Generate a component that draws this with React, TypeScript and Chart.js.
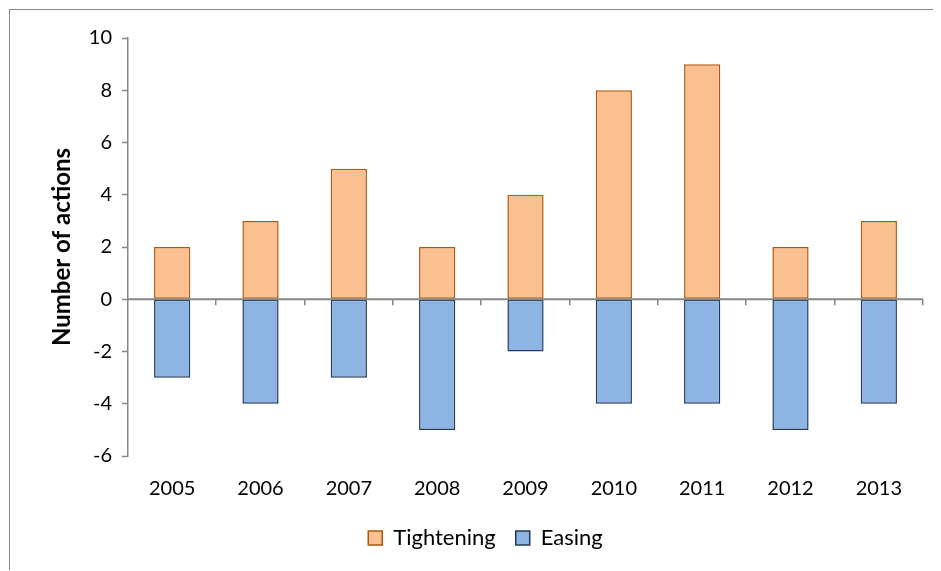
import React, { useEffect, useRef } from "react";
import { Chart, registerables } from "chart.js";

Chart.register(...registerables);

const CATEGORIES = ["2005", "2006", "2007", "2008", "2009", "2010", "2011", "2012", "2013"];
const TIGHTENING = [2, 3, 5, 2, 4, 8, 9, 2, 3];
const EASING = [-3, -4, -3, -5, -2, -4, -4, -5, -4];
const Y_MIN = -6;
const Y_MAX = 10;
const Y_STEP = 2;

const AXIS_COLOR = "#868686";
const FONT = "Lato, 'Open Sans', sans-serif";

const zeroLinePlugin = {
  id: "zeroLine",
  afterDatasetsDraw(chart: any) {
    const { ctx, scales } = chart;
    const x = scales.x;
    const y = scales.y;
    const y0 = y.getPixelForValue(0);
    ctx.save();
    ctx.strokeStyle = AXIS_COLOR;
    ctx.lineWidth = 2;
    ctx.beginPath();
    ctx.moveTo(x.left, y0);
    ctx.lineTo(x.right, y0);
    ctx.stroke();
    ctx.lineWidth = 1.5;
    for (let i = 0; i < CATEGORIES.length; i++) {
      const px = Math.round(x.getPixelForValue(i + 0.5)) - 0.25;
      ctx.beginPath();
      ctx.moveTo(px, y0);
      ctx.lineTo(px, y0 + 6);
      ctx.stroke();
    }
    ctx.restore();
  },
};

export default function App() {
  const ref = useRef<HTMLCanvasElement | null>(null);

  useEffect(() => {
    if (!ref.current) return;
    const chart = new Chart(ref.current, {
      type: "bar",
      data: {
        labels: CATEGORIES,
        datasets: [
          {
            label: "Tightening",
            data: TIGHTENING,
            backgroundColor: "#FAC090",
            borderColor: "#B0560E",
            borderWidth: 1.5,
            borderSkipped: false,
          },
          {
            label: "Easing",
            data: EASING,
            backgroundColor: "#8EB4E3",
            borderColor: "#1F3A5C",
            borderWidth: 1.5,
            borderSkipped: false,
          },
        ],
      },
      options: {
        responsive: false,
        animation: false,
        devicePixelRatio: 1,
        layout: { padding: { top: 28, right: 18, left: 38, bottom: 12 } },
        datasets: {
          bar: { categoryPercentage: 1, barPercentage: 0.41 },
        },
        plugins: {
          legend: {
            position: "bottom",
            labels: {
              color: "#000",
              boxWidth: 14,
              boxHeight: 14,
              padding: 20,
              font: { family: FONT, size: 22 },
            },
          },
          tooltip: { enabled: false },
        },
        scales: {
          x: {
            stacked: true,
            offset: true,
            border: { display: false },
            grid: { display: false, drawTicks: false },
            ticks: {
              color: "#000",
              padding: 21,
              font: { family: FONT, size: 20 },
              maxRotation: 0,
            },
            afterFit: (scale: any) => {
              scale.height = 51;
            },
          },
          y: {
            stacked: true,
            min: Y_MIN,
            max: Y_MAX,
            border: { display: true, color: AXIS_COLOR, width: 1.5 },
            grid: {
              display: true,
              drawOnChartArea: false,
              drawTicks: true,
              tickLength: 6,
              tickColor: AXIS_COLOR,
              tickWidth: 1.5,
            },
            ticks: {
              stepSize: Y_STEP,
              color: "#000",
              padding: 10,
              font: { family: FONT, size: 20 },
            },
            title: {
              display: true,
              text: "Number of actions",
              color: "#000",
              font: { family: FONT, size: 24, weight: "bold" },
              padding: { top: 0, bottom: 0 },
            },
            afterFit: (scale: any) => {
              scale.width = 80;
            },
          },
        },
      },
      plugins: [zeroLinePlugin],
    });
    return () => chart.destroy();
  }, []);

  return (
    <div style={{ paddingTop: 1, paddingLeft: 1, height: 562, width: 932, boxSizing: "border-box" }}>
      <div
        style={{
          borderTop: "1px solid #878787",
          borderLeft: "1px solid #878787",
          width: 931,
          height: 561,
          boxSizing: "content-box",
        }}
      >
        <canvas ref={ref} width={931} height={561} style={{ display: "block" }} />
      </div>
    </div>
  );
}
